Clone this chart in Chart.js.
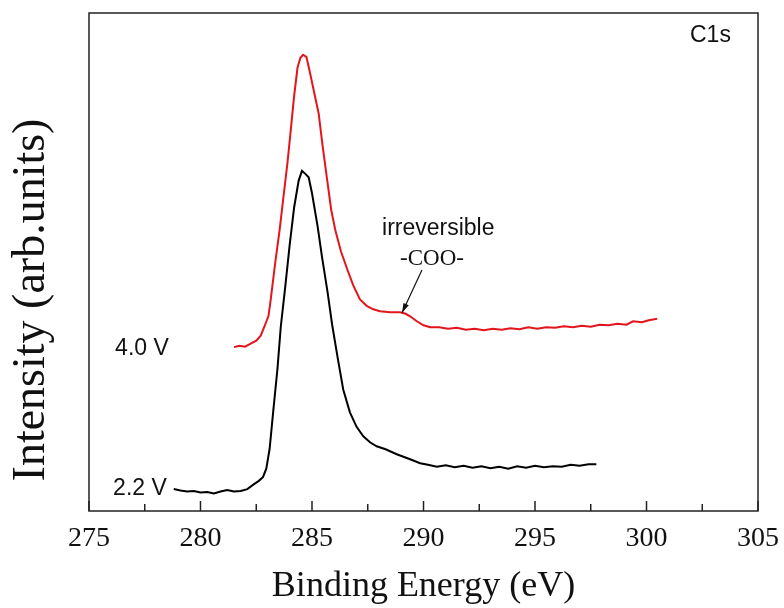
<!DOCTYPE html>
<html>
<head>
<meta charset="utf-8">
<script src="https://cdn.jsdelivr.net/npm/chart.js@4.4.0/dist/chart.umd.min.js"></script>
<style>
  html, body { margin: 0; padding: 0; background: #fff; }
  #wrap { width: 784px; height: 608px; }
</style>
</head>
<body>
<div id="wrap"><canvas id="xpsChart"></canvas></div>
<script>
// C1s spectra (intensity in arb. units, 0..100 = plot height)
const energy22 = [278.8, 279.1, 279.4, 279.7, 280.0, 280.3, 280.6, 280.9, 281.2, 281.5, 281.8, 282.1, 282.4, 282.6, 282.8, 282.95, 283.1, 283.27, 283.45, 283.6, 283.8, 284.0, 284.2, 284.4, 284.55, 284.7, 284.85, 285.0, 285.25, 285.45, 285.7, 285.9, 286.15, 286.4, 286.7, 287.0, 287.3, 287.6, 287.9, 288.3, 288.8, 289.4, 289.85, 290.2, 290.6, 291.0, 291.4, 291.8, 292.2, 292.6, 293.0, 293.4, 293.8, 294.2, 294.6, 295.0, 295.4, 295.8, 296.2, 296.6, 297.0, 297.4, 297.75];
const intensity22 = [4.4, 4.1, 3.9, 4.0, 3.7, 3.8, 3.5, 3.9, 4.2, 3.9, 4.0, 4.4, 5.4, 6.0, 6.8, 8.5, 12.5, 20.4, 28.5, 37.0, 45.0, 53.5, 61.0, 66.3, 68.3, 67.7, 67.0, 63.8, 57.2, 51.0, 43.9, 37.5, 30.8, 24.4, 19.8, 16.9, 15.0, 13.8, 13.0, 12.4, 11.4, 10.4, 9.6, 9.3, 8.9, 9.2, 8.8, 9.1, 8.7, 9.0, 8.6, 8.9, 8.5, 9.0, 8.7, 9.1, 8.8, 9.0, 8.9, 9.3, 9.1, 9.4, 9.4];

const energy40 = [281.5, 281.75, 282.0, 282.25, 282.5, 282.7, 282.9, 283.05, 283.15, 283.35, 283.55, 283.72, 283.9, 284.05, 284.2, 284.35, 284.48, 284.6, 284.75, 284.9, 285.1, 285.3, 285.47, 285.68, 285.86, 286.05, 286.3, 286.6, 286.85, 287.15, 287.45, 287.75, 288.05, 288.5, 288.95, 289.2, 289.4, 289.7, 290.0, 290.3, 290.7, 291.1, 291.5, 291.9, 292.3, 292.7, 293.1, 293.5, 293.9, 294.3, 294.7, 295.1, 295.5, 295.9, 296.3, 296.7, 297.1, 297.5, 297.9, 298.3, 298.7, 299.1, 299.4, 299.8, 300.1, 300.48];
const intensity40 = [32.9, 33.2, 33.0, 33.6, 34.2, 35.2, 37.4, 39.2, 42.5, 49.8, 56.5, 63.1, 69.9, 76.6, 83.4, 89.0, 91.0, 91.6, 91.2, 88.2, 84.0, 79.8, 73.5, 66.5, 60.5, 56.3, 52.1, 48.3, 45.3, 42.5, 41.2, 40.5, 40.1, 39.9, 39.9, 39.6, 39.1, 38.1, 37.3, 36.9, 36.9, 36.6, 36.8, 36.4, 36.6, 36.3, 36.6, 36.4, 36.7, 36.5, 36.9, 36.6, 36.9, 36.8, 37.1, 36.9, 37.2, 37.0, 37.4, 37.3, 37.6, 37.4, 38.1, 37.9, 38.3, 38.6];

const majorTicks = [275, 280, 285, 290, 295, 300, 305];
const minorTicks = [277.5, 282.5, 287.5, 292.5, 297.5, 302.5];

function toPoints(xs, ys) {
  return xs.map((v, i) => ({ x: v, y: ys[i] }));
}

const serif = '"Liberation Serif", "Times New Roman", serif';
const sans = '"Liberation Sans", Arial, sans-serif';

// box frame, inward ticks, annotations
const frameAndLabels = {
  id: 'frameAndLabels',
  afterDraw(chart) {
    const { ctx, chartArea: a, scales: { x, y } } = chart;
    ctx.save();
    ctx.strokeStyle = '#222';
    ctx.lineWidth = 1.5;
    ctx.strokeRect(a.left, a.top, a.right - a.left, a.bottom - a.top);

    ctx.beginPath();
    majorTicks.forEach(v => {
      const px = x.getPixelForValue(v);
      ctx.moveTo(px, a.bottom);
      ctx.lineTo(px, a.bottom - 10);
    });
    minorTicks.forEach(v => {
      const px = x.getPixelForValue(v);
      ctx.moveTo(px, a.bottom);
      ctx.lineTo(px, a.bottom - 7);
    });
    ctx.stroke();

    ctx.fillStyle = '#111';
    ctx.textBaseline = 'alphabetic';
    ctx.textAlign = 'left';
    ctx.font = '23px ' + sans;
    ctx.fillText('4.0 V', x.getPixelForValue(276.17), y.getPixelForValue(31.3));
    ctx.fillText('2.2 V', x.getPixelForValue(276.08), y.getPixelForValue(3.2));
    ctx.fillText('C1s', x.getPixelForValue(301.95), y.getPixelForValue(94.2));
    ctx.fillText('irreversible', x.getPixelForValue(288.14), y.getPixelForValue(55.4));
    ctx.font = '23px ' + serif;
    ctx.fillText('-COO-', x.getPixelForValue(288.95), y.getPixelForValue(49.4));

    // arrow to the shoulder
    const x0 = x.getPixelForValue(289.93), y0 = y.getPixelForValue(48.4);
    const x1 = x.getPixelForValue(289.04), y1 = y.getPixelForValue(39.8);
    ctx.strokeStyle = '#111';
    ctx.lineWidth = 1.2;
    ctx.beginPath();
    ctx.moveTo(x0, y0);
    ctx.lineTo(x1, y1);
    ctx.stroke();
    const ang = Math.atan2(y1 - y0, x1 - x0);
    ctx.beginPath();
    ctx.moveTo(x1, y1);
    ctx.lineTo(x1 - 10 * Math.cos(ang - 0.3), y1 - 10 * Math.sin(ang - 0.3));
    ctx.lineTo(x1 - 10 * Math.cos(ang + 0.3), y1 - 10 * Math.sin(ang + 0.3));
    ctx.closePath();
    ctx.fill();

    // y axis title
    ctx.translate(32, 300);
    ctx.rotate(-Math.PI / 2);
    ctx.textAlign = 'center';
    ctx.textBaseline = 'middle';
    ctx.font = '46px ' + serif;
    ctx.fillText('Intensity (arb.units)', 0, 0);
    ctx.restore();
  }
};

new Chart(document.getElementById('xpsChart'), {
  type: 'line',
  data: {
    datasets: [
      {
        label: '2.2 V',
        data: toPoints(energy22, intensity22),
        borderColor: '#000000',
        borderWidth: 2,
        pointRadius: 0,
        tension: 0,
        fill: false,
      },
      {
        label: '4.0 V',
        data: toPoints(energy40, intensity40),
        borderColor: '#e3151c',
        borderWidth: 2,
        pointRadius: 0,
        tension: 0,
        fill: false,
      },
    ],
  },
  options: {
    responsive: true,
    maintainAspectRatio: false,
    animation: false,
    layout: { padding: { top: 13, right: 26, left: 0, bottom: 0 } },
    plugins: {
      legend: { display: false },
      tooltip: { enabled: false },
    },
    scales: {
      x: {
        type: 'linear',
        min: 275,
        max: 305,
        afterFit: s => { s.height = 97; },
        afterBuildTicks: s => { s.ticks = majorTicks.map(v => ({ value: v })); },
        grid: { display: false },
        border: { display: false },
        ticks: {
          color: '#111',
          padding: 3,
          font: { family: serif, size: 28 },
        },
        title: {
          display: true,
          text: 'Binding Energy (eV)',
          color: '#111',
          font: { family: serif, size: 36, lineHeight: 1 },
          padding: { top: 0, bottom: 3 },
        },
      },
      y: {
        min: 0,
        max: 100,
        afterFit: s => { s.width = 89; },
        grid: { display: false },
        border: { display: false },
        ticks: { display: false },
      },
    },
  },
  plugins: [frameAndLabels],
});
</script>
</body>
</html>
